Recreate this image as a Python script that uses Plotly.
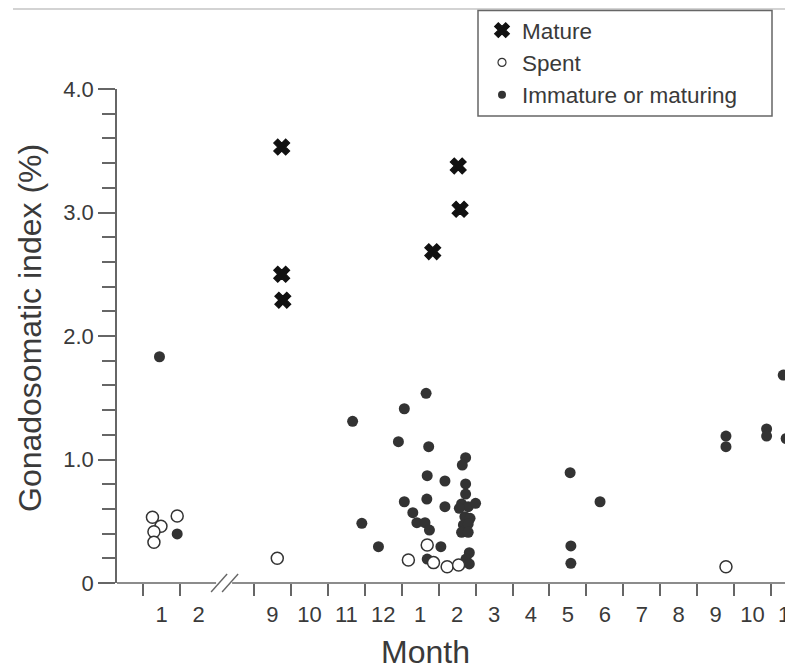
import plotly.graph_objects as go

# ---- data (x = month position on the broken axis, y = GSI %) ----
month_pos = [1, 2, 4, 5, 6, 7, 8, 9, 10, 11, 12, 13, 14, 15, 16, 17, 18]
month_labels = ["1", "2", "9", "10", "11", "12", "1", "2", "3", "4", "5", "6", "7", "8", "9", "10", "11"]
month_bounds = [0.5, 1.5, 3.5, 4.5, 5.5, 6.5, 7.5, 8.5, 9.5, 10.5, 11.5, 12.5, 13.5, 14.5, 15.5, 16.5, 17.5]

mature_x = [4.25, 4.25, 4.28, 8.34, 9.08, 9.03]
mature_y = [3.53, 2.50, 2.29, 2.683, 3.026, 3.377]

spent_x = [0.75, 0.98, 0.79, 0.79, 1.42, 4.13, 7.68, 8.19, 8.36, 8.73, 9.04, 16.28]
spent_y = [0.532, 0.46, 0.415, 0.33, 0.543, 0.20, 0.186, 0.308, 0.165, 0.132, 0.146, 0.132]

immature_x = [0.94, 1.42,
              6.17, 6.42, 6.87,
              7.41, 7.57, 7.57, 7.80, 7.91,
              8.16, 8.23, 8.19, 8.18, 8.13, 8.25, 8.19, 8.56,
              8.67, 8.67,
              9.23, 9.14, 9.23, 9.23, 9.12, 9.30, 9.50, 9.06, 9.21, 9.35, 9.17, 9.30, 9.12, 9.30, 9.33, 9.24, 9.33,
              12.06, 12.08, 12.08, 12.87,
              16.28, 16.28, 17.38, 17.38, 17.83, 17.91, 18.10, 18.10]
immature_y = [1.832, 0.397,
              1.309, 0.483, 0.294,
              1.144, 1.411, 0.658, 0.569, 0.488,
              1.536, 1.104, 0.869, 0.68, 0.488, 0.429, 0.194, 0.294,
              0.826, 0.618,
              1.015, 0.955, 0.802, 0.72, 0.64, 0.618, 0.645, 0.605, 0.537, 0.524, 0.47, 0.478, 0.41, 0.41, 0.245, 0.194, 0.154,
              0.893, 0.30, 0.159, 0.658,
              1.19, 1.104, 1.247, 1.19, 1.684, 1.17, 1.217, 0.848]

y_ticks = [0, 1, 2, 3, 4]
y_ticktext = ["0", "1.0", "2.0", "3.0", "4.0"]

X_RANGE = [-0.21, 18.095]
Y_RANGE = [0, 4.0]
BREAK_X = 2.69

FONT = "Liberation Sans, Arial, sans-serif"
AXIS_COL = "#666666"
TEXT_COL = "#3a3a3a"

# the page body adds an 8 px offset; screen coordinates below are compensated
OFF = 8
W, H = 793, 672
ML, MT = 117 - OFF, 89 - OFF
MR = 8
plot_bottom = 583 - OFF
MB = H - plot_bottom
pw, ph = W - ML - MR, plot_bottom - MT

fig = go.Figure()

fig.add_trace(go.Scatter(x=immature_x, y=immature_y, mode="markers", showlegend=False,
                         marker=dict(symbol="circle", size=11, color="#333333", line=dict(width=0))))
fig.add_trace(go.Scatter(x=spent_x, y=spent_y, mode="markers", showlegend=False,
                         marker=dict(symbol="circle", size=12, color="white",
                                     line=dict(width=1.5, color="#333333"))))
fig.add_trace(go.Scatter(x=mature_x, y=mature_y, mode="markers", showlegend=False,
                         marker=dict(symbol="x", size=14, color="#111111",
                                     line=dict(width=1.2, color="#111111"))))

fig.add_trace(go.Scatter(x=[None], y=[None], mode="markers", name="Mature",
                         marker=dict(symbol="x", size=13, color="#111111", line=dict(width=1.2, color="#111111"))))
fig.add_trace(go.Scatter(x=[None], y=[None], mode="markers", name="Spent",
                         marker=dict(symbol="circle", size=8, color="white", line=dict(width=1.2, color="#333333"))))
fig.add_trace(go.Scatter(x=[None], y=[None], mode="markers", name="Immature or maturing",
                         marker=dict(symbol="circle", size=8, color="#333333", line=dict(width=0))))


def sx(px):  # screen px -> paper x
    return (px - OFF - ML) / pw


def sy(py):  # screen px -> paper y
    return (plot_bottom - (py - OFF)) / ph


def data2paper_x(x):
    return (x - X_RANGE[0]) / (X_RANGE[1] - X_RANGE[0])


line_style = dict(color=AXIS_COL, width=1.6)
bx = data2paper_x(BREAK_X)
dx = 8 / pw
shapes = [
    dict(type="line", xref="paper", yref="paper", x0=0, x1=bx - dx, y0=0, y1=0, line=line_style),
    dict(type="line", xref="paper", yref="paper", x0=bx + dx, x1=1, y0=0, y1=0, line=line_style),
    dict(type="line", xref="paper", yref="paper", x0=bx - 13 / pw, x1=bx + 3 / pw,
         y0=-9 / ph, y1=9 / ph, line=dict(color=AXIS_COL, width=1.4)),
    dict(type="line", xref="paper", yref="paper", x0=bx - 2 / pw, x1=bx + 14 / pw,
         y0=-9 / ph, y1=9 / ph, line=dict(color=AXIS_COL, width=1.4)),
    # top separator line
    dict(type="line", xref="paper", yref="paper", x0=sx(13), x1=sx(801),
         y0=sy(9), y1=sy(9), line=dict(color="#c4c4c4", width=1.5)),
    # legend frame
    dict(type="rect", xref="paper", yref="paper", x0=sx(478), x1=sx(772),
         y0=sy(116), y1=sy(10.5), line=dict(color=AXIS_COL, width=1.5), fillcolor="rgba(0,0,0,0)"),
]

fig.update_layout(
    width=W, height=H,
    margin=dict(l=ML, r=MR, t=MT, b=MB, pad=0, autoexpand=False),
    paper_bgcolor="white", plot_bgcolor="white",
    font=dict(family=FONT, color=TEXT_COL),
    shapes=shapes,
    showlegend=True,
    legend=dict(
        x=sx(482), xanchor="left",
        y=sy(9), yanchor="top",
        borderwidth=0, bgcolor="rgba(0,0,0,0)",
        font=dict(size=22.5, color=TEXT_COL, family=FONT),
        tracegroupgap=0, itemwidth=30,
    ),
    annotations=[
        dict(text="Gonadosomatic index (%)", textangle=-90, xref="paper", yref="paper",
             x=sx(30), y=sy(328), xanchor="center", yanchor="middle",
             showarrow=False, font=dict(size=32, color=TEXT_COL, family=FONT)),
        dict(text="Month", xref="paper", yref="paper",
             x=sx(425), y=sy(652), xanchor="center", yanchor="middle",
             showarrow=False, font=dict(size=32, color=TEXT_COL, family=FONT)),
    ],
)

fig.update_xaxes(
    range=X_RANGE, showgrid=False, zeroline=False, showline=False,
    tickmode="array", tickvals=month_pos, ticktext=month_labels,
    ticks="outside", ticklen=12, tickcolor="rgba(0,0,0,0)", tickwidth=1,
    tickfont=dict(size=22, color=TEXT_COL, family=FONT),
    minor=dict(tickmode="array", tickvals=month_bounds, ticks="outside", ticklen=12,
               tickcolor=AXIS_COL, tickwidth=1.6, showgrid=False),
    fixedrange=True, automargin=False,
)
fig.update_yaxes(
    range=Y_RANGE, showgrid=False, zeroline=False,
    showline=True, linecolor=AXIS_COL, linewidth=1.6,
    tickmode="array", tickvals=y_ticks, ticktext=y_ticktext,
    ticks="outside", ticklen=17, tickcolor=AXIS_COL, tickwidth=1.6,
    tickfont=dict(size=22, color=TEXT_COL, family=FONT),
    minor=dict(dtick=0.2, tick0=0, ticks="outside", ticklen=13, tickcolor=AXIS_COL,
               tickwidth=1.6, showgrid=False),
    fixedrange=True, automargin=False,
)

fig.write_html("out.html")
